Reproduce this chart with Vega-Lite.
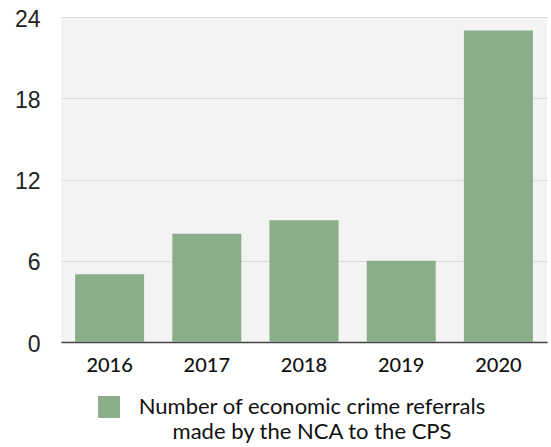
{
  "$schema": "https://vega.github.io/schema/vega-lite/v6.json",
  "autosize": "none",
  "width": 486,
  "height": 325,
  "padding": {"left": 61, "top": 17, "right": 4, "bottom": 105},
  "background": "white",
  "view": {"fill": "#f3f3f3", "stroke": null},
  "data": {
    "values": [
      {"year": "2016", "referrals": 5, "series": "Number of economic crime referrals made by the NCA to the CPS"},
      {"year": "2017", "referrals": 8, "series": "Number of economic crime referrals made by the NCA to the CPS"},
      {"year": "2018", "referrals": 9, "series": "Number of economic crime referrals made by the NCA to the CPS"},
      {"year": "2019", "referrals": 6, "series": "Number of economic crime referrals made by the NCA to the CPS"},
      {"year": "2020", "referrals": 23, "series": "Number of economic crime referrals made by the NCA to the CPS"}
    ]
  },
  "mark": {"type": "bar"},
  "encoding": {
    "x": {
      "field": "year",
      "type": "nominal",
      "scale": {"paddingInner": 0.29, "paddingOuter": 0.145},
      "axis": {
        "title": null,
        "labelAngle": 0,
        "labelFont": "Lato",
        "labelFontSize": 20,
        "labelFontWeight": 500,
        "labelColor": "#111111",
        "domainColor": "#444444",
        "domainWidth": 1.5,
        "ticks": false,
        "tickSize": 0,
        "labelPadding": 13
      }
    },
    "y": {
      "field": "referrals",
      "type": "quantitative",
      "scale": {"domain": [0, 24], "nice": false},
      "axis": {
        "title": null,
        "values": [0, 6, 12, 18, 24],
        "domain": false,
        "ticks": false,
        "tickSize": 0,
        "gridColor": "#dcdcdc",
        "gridWidth": 1,
        "labelFont": "Liberation Sans",
        "labelFontSize": 23,
        "labelColor": "#222222",
        "labelPadding": 21,
        "labelOffset": 2
      }
    },
    "color": {
      "field": "series",
      "type": "nominal",
      "scale": {"range": ["#8bad89"]},
      "legend": {
        "title": null,
        "orient": "none",
        "legendX": 37,
        "legendY": 379,
        "symbolType": "square",
        "symbolSize": 484,
        "symbolStrokeWidth": 0,
        "symbolOpacity": 1,
        "labelFont": "Lato",
        "labelFontSize": 22,
        "labelColor": "#111111",
        "labelAlign": "center",
        "labelOffset": 192,
        "labelLimit": 800,
        "labelExpr": "['Number of economic crime referrals', 'made by the NCA to the CPS']",
        "encode": {"labels": {"update": {"lineHeight": {"value": 25}}}}
      }
    }
  }
}
